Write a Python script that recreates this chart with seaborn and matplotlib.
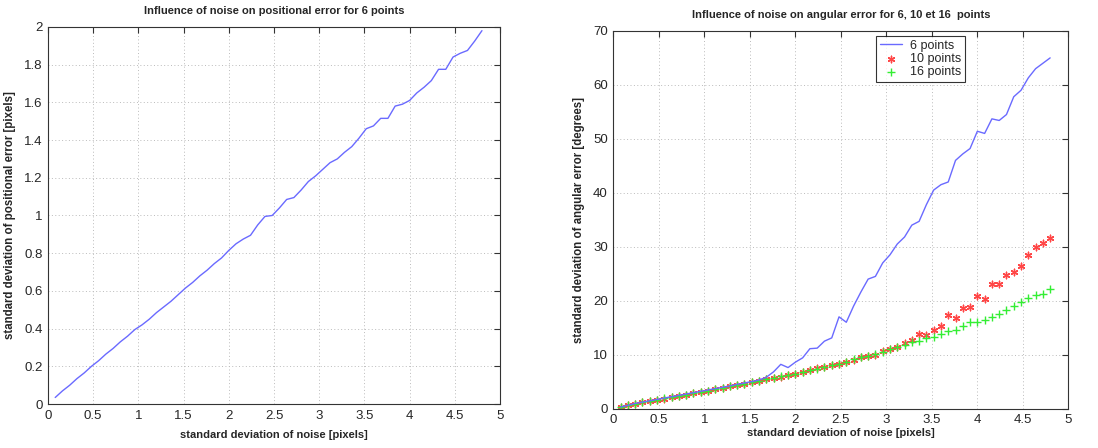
import numpy as np
import pandas as pd
import seaborn as sns
import matplotlib
matplotlib.use("Agg")
import matplotlib.pyplot as plt

# noise levels (std dev, pixels)
noise = [0.08, 0.16, 0.24, 0.32, 0.40, 0.48, 0.56, 0.64, 0.72, 0.80,
         0.88, 0.96, 1.04, 1.12, 1.20, 1.28, 1.36, 1.44, 1.52, 1.60,
         1.68, 1.76, 1.84, 1.92, 2.00, 2.08, 2.16, 2.24, 2.32, 2.40,
         2.48, 2.56, 2.64, 2.72, 2.80, 2.88, 2.96, 3.04, 3.12, 3.20,
         3.28, 3.36, 3.44, 3.52, 3.60, 3.68, 3.76, 3.84, 3.92, 4.00,
         4.08, 4.16, 4.24, 4.32, 4.40, 4.48, 4.56, 4.64, 4.72, 4.80]

# positional error, 6 points
pos_6 = [0.035, 0.07, 0.10, 0.135, 0.165, 0.20, 0.23, 0.265, 0.295, 0.33,
         0.36, 0.395, 0.42, 0.45, 0.485, 0.515, 0.545, 0.58, 0.615, 0.645,
         0.68, 0.71, 0.745, 0.775, 0.815, 0.85, 0.875, 0.895, 0.95, 0.995,
         1.00, 1.04, 1.085, 1.095, 1.135, 1.18, 1.21, 1.245, 1.28, 1.30,
         1.335, 1.365, 1.41, 1.46, 1.475, 1.515, 1.515, 1.58, 1.59, 1.61,
         1.65, 1.68, 1.715, 1.775, 1.775, 1.84, 1.86, 1.875, 1.925, 1.98]

# angular error (degrees)
ang_6 = [0.3, 0.6, 0.95, 1.2, 1.45, 1.7, 1.95, 2.2, 2.45, 2.7,
         2.95, 3.2, 3.45, 3.7, 3.95, 4.2, 4.5, 4.75, 5.0, 5.3,
         5.8, 6.8, 8.2, 7.6, 8.6, 9.4, 11.1, 11.2, 12.5, 13.1,
         17.0, 16.0, 19.0, 21.6, 24.0, 24.5, 27.0, 28.5, 30.5, 31.8,
         34.0, 34.7, 37.8, 40.5, 41.5, 42.0, 46.0, 47.2, 48.2, 51.4,
         51.0, 53.7, 53.4, 54.5, 57.8, 59.0, 61.3, 63.0, 64.0, 65.0]

ang_10 = [0.3, 0.6, 0.9, 1.15, 1.35, 1.6, 1.85, 2.1, 2.35, 2.6,
          2.85, 3.1, 3.35, 3.6, 3.85, 4.1, 4.35, 4.6, 4.85, 5.1,
          5.4, 5.65, 5.9, 6.15, 6.45, 6.8, 7.1, 7.45, 7.65, 8.0,
          8.35, 8.6, 9.05, 9.5, 9.8, 10.0, 10.6, 11.1, 11.5, 12.2,
          12.8, 13.9, 13.7, 14.5, 15.3, 17.3, 16.7, 18.7, 18.8, 20.9,
          20.4, 23.1, 23.0, 24.7, 25.4, 26.5, 28.4, 30.0, 30.6, 31.7]

ang_16 = [0.3, 0.6, 0.9, 1.15, 1.4, 1.65, 1.9, 2.15, 2.4, 2.6,
          2.85, 3.1, 3.35, 3.6, 3.85, 4.1, 4.35, 4.6, 4.9, 5.15,
          5.45, 5.7, 5.95, 6.2, 6.5, 6.8, 7.1, 7.4, 7.7, 8.05,
          8.35, 8.7, 9.1, 9.5, 9.8, 10.1, 10.5, 11.0, 11.4, 11.8,
          12.4, 12.6, 13.1, 13.3, 13.9, 14.3, 14.5, 15.3, 16.0, 16.0,
          16.4, 17.0, 17.6, 18.3, 19.0, 19.8, 20.5, 21.0, 21.3, 22.2]

sns.set_style("white")
plt.rcParams['font.family'] = ['Liberation Sans', 'DejaVu Sans']

fig = plt.figure(figsize=(10.98, 4.48), dpi=100)
ax1 = fig.add_axes([0.0437, 0.098, 0.4117, 0.842])
ax2 = fig.add_axes([0.5586, 0.088, 0.4144, 0.843])

blue = '#6a6aff'
ticklabs = ['0', '0.5', '1', '1.5', '2', '2.5', '3', '3.5', '4', '4.5', '5']

sns.lineplot(x=noise, y=pos_6, ax=ax1, color=blue, linewidth=1.0)
ax1.set_xlim(0, 5)
ax1.set_ylim(0, 2)
ax1.set_xticks(np.arange(0, 5.01, 0.5))
ax1.set_xticklabels(ticklabs)
ax1.set_yticks(np.arange(0, 2.01, 0.2))
ax1.set_yticklabels(['0', '0.2', '0.4', '0.6', '0.8', '1', '1.2', '1.4', '1.6', '1.8', '2'])
ax1.set_title("Influence of noise on positional error for 6 points",
              fontsize=8, fontweight='bold', pad=9)
ax1.set_xlabel("standard deviation of noise [pixels]", fontsize=8, fontweight='bold', labelpad=6)
ax1.set_ylabel("standard deviation of positional error [pixels]", fontsize=8.3, fontweight='bold', labelpad=6)

sns.lineplot(x=noise, y=ang_6, ax=ax2, color=blue, linewidth=1.0, label='6 points')
sns.scatterplot(x=noise, y=ang_10, ax=ax2, color='#ff3333', marker=(6, 2, 0),
                s=22, linewidth=1.0, alpha=0.9, label='10 points')
sns.scatterplot(x=noise, y=ang_16, ax=ax2, color='#33ee33', marker='+',
                s=40, linewidth=1.0, label='16 points')
ax2.set_xlim(0, 5)
ax2.set_ylim(0, 70)
ax2.set_xticks(np.arange(0, 5.01, 0.5))
ax2.set_xticklabels(ticklabs)
ax2.set_yticks(np.arange(0, 71, 10))
ax2.set_title("Influence of noise on angular error for 6, 10 et 16  points",
              fontsize=8, fontweight='bold', pad=9)
ax2.set_xlabel("standard deviation of noise [pixels]", fontsize=8, fontweight='bold', labelpad=1)
ax2.set_ylabel("standard deviation of angular error [degrees]", fontsize=8.3, fontweight='bold', labelpad=6)
leg = ax2.legend(loc='upper left', bbox_to_anchor=(0.577, 0.987), fontsize=9,
                 frameon=True, fancybox=False, borderpad=0.3, labelspacing=0.1,
                 handlelength=1.8, handletextpad=0.6, borderaxespad=0)
leg.get_frame().set_edgecolor('black')
leg.get_frame().set_linewidth(0.8)

for ax in (ax1, ax2):
    ax.grid(True, linestyle=(0, (1, 2.5)), color='#bbbbbb', linewidth=0.7)
    ax.tick_params(direction='in', top=True, right=True, length=4, labelsize=9.5,
                   color='#333333', pad=4)
    for s in ax.spines.values():
        s.set_color('#333333')
        s.set_linewidth(0.8)

fig.savefig("out.png", dpi=100)
